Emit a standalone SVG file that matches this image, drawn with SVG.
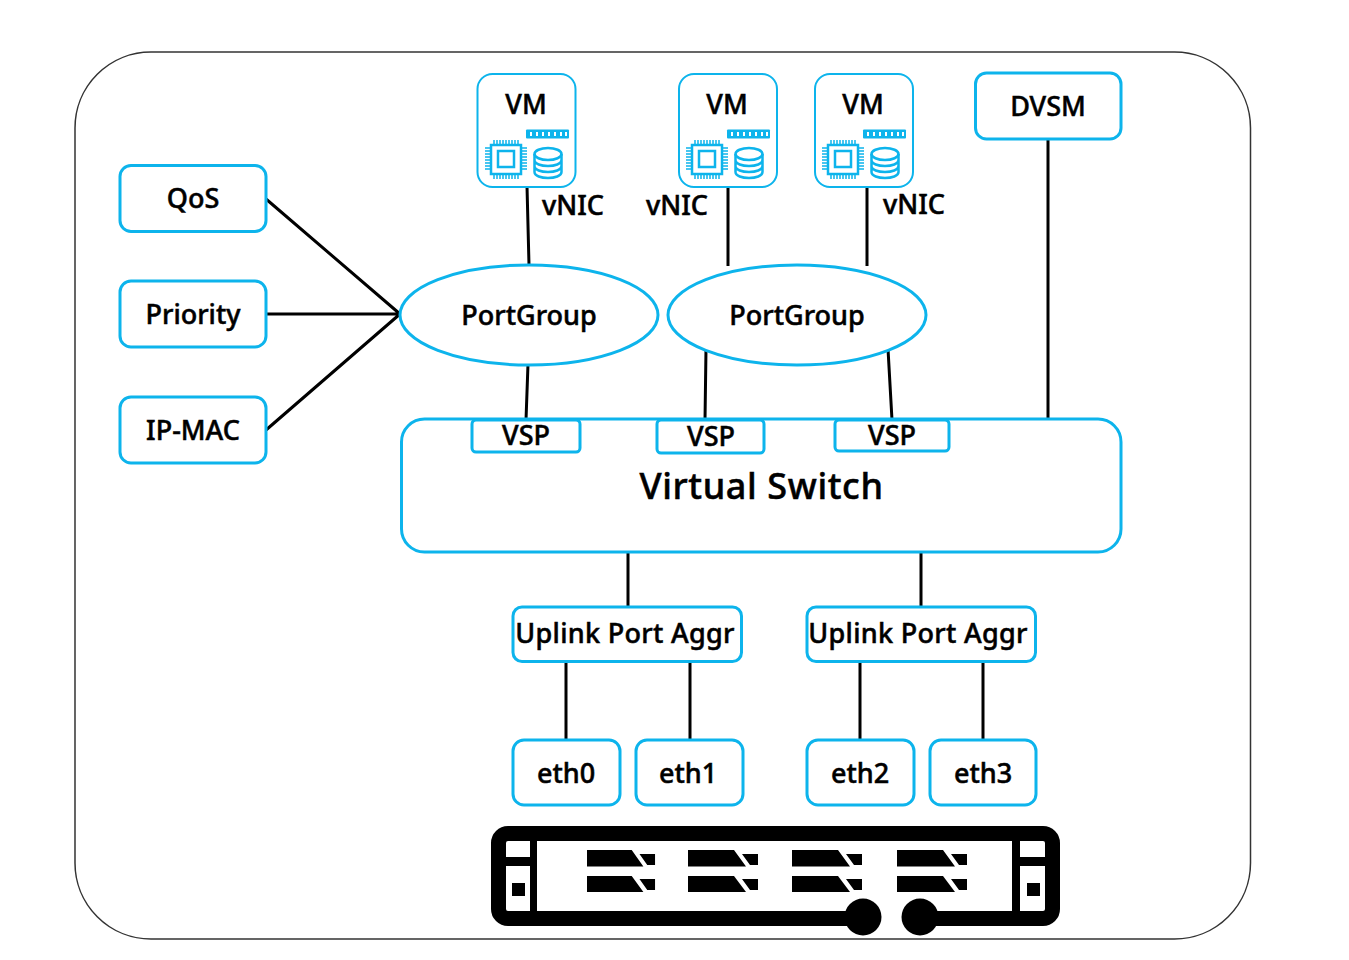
<svg xmlns="http://www.w3.org/2000/svg" width="1349" height="960" viewBox="0 0 1349 960">
<style>
.b{fill:#fff;stroke:#0db4ec;stroke-width:3}
.v{fill:#fff;stroke:#0db4ec;stroke-width:2}
.l{fill:none;stroke:#000;stroke-width:3}
.t{font-family:"Noto Sans","Open Sans","DejaVu Sans",sans-serif;font-weight:500;font-size:27px;fill:#000;text-anchor:middle;stroke:#000;stroke-width:.5}
.i{fill:none;stroke:#0db4ec;stroke-width:2.500}
.j{fill:none;stroke:#0db4ec;stroke-width:1.500}
</style>
<defs>
<g id="vmicon">
<rect x="491" y="145" width="30" height="29" class="i"/>
<rect x="498" y="151" width="16" height="16" class="i"/>
<path d="M485 148h6M485 151h6M485 154h6M485 157h6M485 160h6M485 163h6M485 166h6M485 169h6M521 148h6M521 151h6M521 154h6M521 157h6M521 160h6M521 163h6M521 166h6M521 169h6M494 140v5M497 140v5M500 140v5M503 140v5M506 140v5M509 140v5M512 140v5M515 140v5M518 140v5M494 174v5M497 174v5M500 174v5M503 174v5M506 174v5M509 174v5M512 174v5M515 174v5M518 174v5" class="j"/>
<rect x="526" y="129.500" width="43" height="9" rx="1" fill="#0db4ec"/>
<path d="M531 132v4M537 132v4M543 132v4M549 132v4M555 132v4M561 132v4M566 132v4" stroke="#fff" stroke-width="2"/>
<ellipse cx="548" cy="154" rx="13.500" ry="6" class="i"/>
<path d="M534.500 154v18c0 8 27 8 27 0v-18M534.500 160c0 8 27 8 27 0M534.500 166c0 8 27 8 27 0" class="i"/>
</g>
<path id="drive" d="M0 850H46L58 866.500H0ZM54 854H70V865H62ZM0 876H46L58 892H0ZM54 879H70V890H62Z" fill="#000"/>
</defs>
<rect id="frame" x="75" y="52" width="1175.500" height="887" rx="76" fill="#fff" stroke="#333" stroke-width="1.500"/>
<g id="connectors">
<path class="l" d="M266 199L400 314M266 314H400M266 430L400 314"/>
<path class="l" d="M527 186L529 265M728 186V266M867 186V266M1048 139V419"/>
<path class="l" d="M528 364L526 420M706 349L705 420M888 349L892 420"/>
<path class="l" d="M628 552V607M921 552V607M566 661V740M690 661V740M860 661V740M983 661V740"/>
</g>
<g id="vm1"><rect class="v" x="477.500" y="74" width="98" height="113" rx="15"/><use href="#vmicon"/><text class="t" x="526" y="114">VM</text></g>
<g id="vm2"><rect class="v" x="679" y="74" width="98" height="113" rx="15"/><use href="#vmicon" x="201"/><text class="t" x="727" y="114">VM</text></g>
<g id="vm3"><rect class="v" x="815" y="74" width="98" height="113" rx="15"/><use href="#vmicon" x="337"/><text class="t" x="863" y="114">VM</text></g>
<g id="dvsm"><rect class="b" x="975.500" y="73" width="145.500" height="66" rx="11"/><text class="t" x="1048" y="116">DVSM</text></g>
<g id="qos"><rect class="b" x="120" y="165.500" width="146" height="66" rx="11"/><text class="t" x="193" y="208">QoS</text></g>
<g id="priority"><rect class="b" x="120" y="281" width="146" height="66" rx="11"/><text class="t" x="193" y="324">Priority</text></g>
<g id="ipmac"><rect class="b" x="120" y="397" width="146" height="66" rx="11"/><text class="t" x="193" y="440">IP-MAC</text></g>
<text class="t" x="573" y="215">vNIC</text>
<text class="t" x="677" y="215">vNIC</text>
<text class="t" x="914" y="214">vNIC</text>
<g id="pg1"><ellipse class="b" cx="529" cy="315" rx="129" ry="50"/><text class="t" x="529" y="325">PortGroup</text></g>
<g id="pg2"><ellipse class="b" cx="797" cy="315" rx="129" ry="50"/><text class="t" x="797" y="325">PortGroup</text></g>
<g id="vswitch"><rect class="b" x="401.500" y="419" width="719.500" height="133" rx="23"/><text class="t" x="761.500" y="499" style="font-size:36px;letter-spacing:.6px">Virtual Switch</text></g>
<g id="vsp1"><rect class="b" x="472" y="420" width="108" height="32" rx="4"/><text class="t" x="526" y="445">VSP</text></g>
<g id="vsp2"><rect class="b" x="657" y="420" width="107" height="33" rx="4"/><text class="t" x="711" y="446">VSP</text></g>
<g id="vsp3"><rect class="b" x="835" y="420" width="114" height="31" rx="4"/><text class="t" x="892" y="445">VSP</text></g>
<g id="upa1"><rect class="b" x="513" y="607" width="228.500" height="54.500" rx="9"/><text class="t" x="625" y="643" style="letter-spacing:.3px">Uplink Port Aggr</text></g>
<g id="upa2"><rect class="b" x="807" y="607" width="228.500" height="54.500" rx="9"/><text class="t" x="918" y="643" style="letter-spacing:.3px">Uplink Port Aggr</text></g>
<g id="eth0"><rect class="b" x="513" y="740" width="107" height="65" rx="11"/><text class="t" x="566" y="783">eth0</text></g>
<g id="eth1"><rect class="b" x="636" y="740" width="107" height="65" rx="11"/><text class="t" x="688" y="783">eth1</text></g>
<g id="eth2"><rect class="b" x="807" y="740" width="107" height="65" rx="11"/><text class="t" x="860" y="783">eth2</text></g>
<g id="eth3"><rect class="b" x="930" y="740" width="106" height="65" rx="11"/><text class="t" x="983" y="783">eth3</text></g>
<g id="server">
<path d="M863 918.500H508a9.500 9.500 0 0 1-9.500-9.500V843a9.500 9.500 0 0 1 9.500-9.500H1043a9.500 9.500 0 0 1 9.500 9.500V909a9.500 9.500 0 0 1-9.500 9.500H920" fill="none" stroke="#000" stroke-width="15"/>
<rect x="530" y="836" width="7" height="80" fill="#000"/>
<rect x="1012" y="836" width="8" height="80" fill="#000"/>
<rect x="500" y="857" width="32" height="9" fill="#000"/>
<rect x="1018" y="857" width="32" height="9" fill="#000"/>
<rect x="512" y="883" width="13" height="13" fill="#000"/>
<rect x="1027" y="883" width="13" height="13" fill="#000"/>
<circle cx="863" cy="917" r="18.500" fill="#000"/>
<circle cx="920" cy="917" r="18.500" fill="#000"/>
<use href="#drive" transform="translate(587 0) scale(.972 1)"/>
<use href="#drive" x="688"/>
<use href="#drive" x="792"/>
<use href="#drive" x="897"/>
</g>
</svg>
